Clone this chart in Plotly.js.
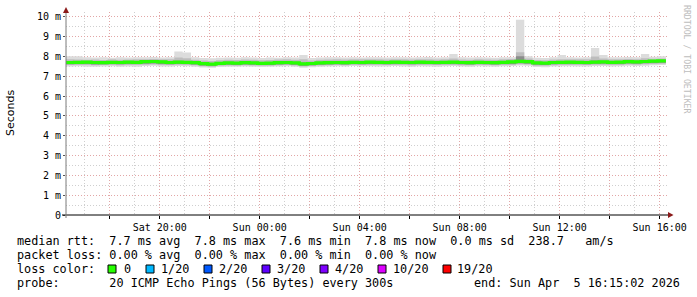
<!DOCTYPE html>
<html><head><meta charset="utf-8">
<script src="https://cdn.plot.ly/plotly-3.0.1.min.js"></script>
<style>html,body{margin:0;padding:0;background:#fff;}#chart{width:697px;height:297px;}</style>
</head><body><div id="chart"></div>
<script>
// ---- data (ms), 20-minute bins starting Sat 2026-04-04 16:15:02 ----
const medianRtt = [
 7.70,7.71,7.72,7.70,7.69,7.71,7.70,7.72,7.71,7.74,7.75,7.73,
 7.70,7.72,7.71,7.69,7.64,7.62,7.66,7.68,7.67,7.69,7.68,7.66,
 7.67,7.69,7.70,7.68,7.63,7.65,7.68,7.69,7.70,7.69,7.71,7.70,
 7.72,7.71,7.70,7.72,7.71,7.70,7.72,7.71,7.70,7.71,7.72,7.70,
 7.69,7.71,7.70,7.69,7.71,7.73,7.76,7.74,7.68,7.67,7.70,7.71,
 7.72,7.71,7.70,7.72,7.73,7.71,7.72,7.74,7.73,7.75,7.77,7.78];
const smokeMax = [
 8.02,8.01,7.96,7.95,7.97,7.94,7.96,7.95,7.97,7.96,7.98,7.95,
 7.97,8.26,8.20,7.96,7.93,7.92,7.94,7.95,7.94,7.96,7.95,7.93,
 7.95,7.94,7.96,7.95,8.08,7.93,7.95,7.96,7.97,7.95,7.96,7.95,
 7.96,7.97,7.95,7.96,7.97,7.95,7.96,7.98,7.95,7.96,8.13,7.96,
 7.95,7.96,7.95,7.94,7.96,7.97,9.86,8.02,7.94,7.93,7.96,8.08,
 7.96,7.95,7.97,8.43,8.08,7.96,7.97,7.98,7.97,8.13,7.99,8.01];
const smokeHi = [
 7.86,7.85,7.84,7.85,7.83,7.86,7.84,7.85,7.86,7.87,7.88,7.86,
 7.86,7.95,7.92,7.84,7.80,7.78,7.82,7.84,7.83,7.85,7.84,7.82,
 7.83,7.85,7.86,7.84,7.86,7.80,7.84,7.85,7.86,7.85,7.87,7.86,
 7.87,7.86,7.85,7.87,7.86,7.85,7.87,7.86,7.85,7.86,7.90,7.85,
 7.84,7.86,7.85,7.84,7.86,7.88,8.22,7.90,7.83,7.82,7.85,7.87,
 7.87,7.86,7.86,8.00,7.90,7.86,7.87,7.88,7.87,7.92,7.89,7.90];
const smokeDarkHi = [
 7.76,7.77,7.78,7.76,7.75,7.77,7.76,7.78,7.77,7.80,7.81,7.79,
 7.76,7.79,7.77,7.75,7.70,7.68,7.72,7.74,7.73,7.75,7.74,7.72,
 7.73,7.75,7.76,7.74,7.70,7.71,7.74,7.75,7.76,7.75,7.77,7.76,
 7.78,7.77,7.76,7.78,7.77,7.76,7.78,7.77,7.76,7.77,7.78,7.76,
 7.75,7.77,7.76,7.75,7.77,7.79,8.02,7.80,7.74,7.73,7.76,7.77,
 7.78,7.77,7.76,7.80,7.79,7.77,7.78,7.80,7.79,7.81,7.83,7.84];
const smokeDarkLo = [
 7.61,7.62,7.63,7.60,7.61,7.62,7.61,7.63,7.62,7.64,7.65,7.63,
 7.61,7.63,7.62,7.60,7.55,7.53,7.57,7.59,7.58,7.60,7.59,7.57,
 7.58,7.60,7.61,7.59,7.54,7.56,7.59,7.60,7.61,7.60,7.62,7.61,
 7.63,7.62,7.61,7.63,7.62,7.61,7.63,7.62,7.61,7.62,7.63,7.61,
 7.60,7.62,7.61,7.60,7.62,7.63,7.66,7.64,7.59,7.58,7.61,7.62,
 7.63,7.62,7.61,7.64,7.64,7.62,7.63,7.65,7.64,7.66,7.68,7.69];
const smokeLo = [
 7.57,7.58,7.58,7.56,7.57,7.58,7.56,7.58,7.57,7.59,7.60,7.58,
 7.57,7.59,7.58,7.56,7.51,7.49,7.53,7.55,7.54,7.56,7.55,7.53,
 7.54,7.56,7.57,7.55,7.50,7.52,7.55,7.56,7.57,7.56,7.58,7.57,
 7.58,7.57,7.57,7.58,7.57,7.56,7.58,7.57,7.57,7.58,7.58,7.56,
 7.56,7.57,7.57,7.56,7.57,7.58,7.61,7.60,7.54,7.53,7.56,7.57,
 7.58,7.57,7.57,7.59,7.59,7.57,7.58,7.60,7.59,7.61,7.63,7.64];
const smokeMin = [
 7.50,7.51,7.49,7.48,7.50,7.51,7.49,7.50,7.48,7.52,7.53,7.50,
 7.50,7.52,7.51,7.49,7.45,7.44,7.47,7.49,7.48,7.50,7.49,7.47,
 7.48,7.50,7.51,7.49,7.44,7.46,7.49,7.50,7.51,7.50,7.52,7.51,
 7.51,7.50,7.50,7.52,7.50,7.49,7.51,7.50,7.49,7.51,7.52,7.50,
 7.49,7.51,7.50,7.49,7.51,7.52,7.55,7.53,7.47,7.46,7.50,7.51,
 7.51,7.50,7.50,7.52,7.52,7.50,7.51,7.53,7.52,7.54,7.56,7.57];

const yTickVals = [0,1,2,3,4,5,6,7,8,9,10];
const yTickText = ['0','1 m','2 m','3 m','4 m','5 m','6 m','7 m','8 m','9 m','10 m'];
const xTickVals = ['2026-04-04 18:00','2026-04-04 20:00','2026-04-04 22:00','2026-04-05 00:00',
  '2026-04-05 02:00','2026-04-05 04:00','2026-04-05 06:00','2026-04-05 08:00',
  '2026-04-05 10:00','2026-04-05 12:00','2026-04-05 14:00','2026-04-05 16:00'];
const xTickText = ['','Sat 20:00','','Sun 00:00','','Sun 04:00','','Sun 08:00','','Sun 12:00','','Sun 16:00'];

const lossLabels = ['0','1/20','2/20','3/20','4/20','10/20','19/20'];
const lossColors = ['#26ff00','#00b8ff','#0059ff','#5e00ff','#7e00ff','#dd00ff','#ff0000'];

const statLine1 = 'median rtt:  7.7 ms avg  7.8 ms max  7.6 ms min  7.8 ms now  0.0 ms sd  238.7   am/s';
const statLine2 = 'packet loss: 0.00 % avg  0.00 % max  0.00 % min  0.00 % now';
const lossTitle = 'loss color:';
const probeLine = 'probe:       20 ICMP Echo Pings (56 Bytes) every 300s';
const endLine = 'end: Sun Apr  5 16:15:02 2026';
const yTitle = 'Seconds';
const watermark = 'RRDTOOL / TOBI OETIKER';

// ---- time axis for the bins ----
function pad(n){return (n<10?'0':'')+n;}
const t0 = Date.UTC(2026,3,4,16,15,2);
const times = [];
for (let i=0;i<=medianRtt.length;i++){
  const d = new Date(t0 + i*20*60000);
  times.push(d.getUTCFullYear()+'-'+pad(d.getUTCMonth()+1)+'-'+pad(d.getUTCDate())+' '+
    pad(d.getUTCHours())+':'+pad(d.getUTCMinutes())+':'+pad(d.getUTCSeconds()));
}
const ext = a => a.concat([a[a.length-1]]);

function band(lo, hi, color){
  return [
    {x: times, y: ext(lo), type:'scatter', mode:'lines', line:{width:0, shape:'hv'}, hoverinfo:'skip', showlegend:false},
    {x: times, y: ext(hi), type:'scatter', mode:'lines', line:{width:0, shape:'hv'}, fill:'tonexty', fillcolor:color, hoverinfo:'skip', showlegend:false}
  ];
}
const traces = [].concat(
  band(smokeMin, smokeMax, '#dcdcdc'),
  band(smokeLo, smokeHi, '#bdbdbd'),
  band(smokeDarkLo, smokeDarkHi, '#8c8c8c'),
  [{x: times, y: ext(medianRtt), type:'scatter', mode:'lines', line:{color:'#26ff00', width:3.2, shape:'hv'}, showlegend:false}]
);

// ---- pixel helpers ----
const PL=66, PR=668, PT=12, PB=215;
const px = x => (x-PL)/(PR-PL);
const py = y => (PB-y)/(PB-PT);
const mono = 'DejaVu Sans Mono';
const nb = s => s.replace(/ /g,'\u00a0');

const annotations = [];
function txt(s, x, y, anchor, size, color, angle, fam){
  annotations.push({text: nb(s), xref:'paper', yref:'paper', x: px(x), y: py(y), xanchor: anchor, yanchor:'middle',
    showarrow:false, textangle: angle||0, borderpad:0, font:{family: fam||mono, size: size, color: color||'#000'}});
}
txt(statLine1, 16, 241, 'left', 11.8);
txt(statLine2, 16, 255, 'left', 11.8);
txt(lossTitle, 16, 269, 'left', 11.8);
txt(probeLine, 16, 283, 'left', 11.8);
txt(endLine, 681, 283, 'right', 11.8);
txt(yTitle, 11, 113, 'center', 11, '#000', -90, 'DejaVu Sans');
txt(watermark, 687, 59, 'center', 8.2, '#bdbdbd', 90);

const boxX = [108,146,204,262,320,378,443];
const labelX = [123,160,218,276,334,392,456];
const shapes = [];
lossLabels.forEach((lab,i)=>{
  shapes.push({type:'rect', xref:'paper', yref:'paper', x0:px(boxX[i]), x1:px(boxX[i]+8), y0:py(273), y1:py(265),
    fillcolor: lossColors[i], line:{color:'#000', width:1}});
  txt(lab, labelX[i], 269, 'left', 11.8);
});
// axes with arrows
shapes.push({type:'line', xref:'paper', yref:'paper', x0:px(62), x1:px(669), y0:py(215), y1:py(215), line:{color:'#000', width:1}});
shapes.push({type:'line', xref:'paper', yref:'paper', x0:px(66), x1:px(66), y0:py(218), y1:py(11), line:{color:'#7a7a7a', width:1}});
shapes.push({type:'path', xref:'paper', yref:'paper',
  path:'M '+px(668)+' '+py(212)+' L '+px(673.5)+' '+py(215)+' L '+px(668)+' '+py(218)+' Z',
  fillcolor:'#8b1a1a', line:{width:0}});
shapes.push({type:'path', xref:'paper', yref:'paper',
  path:'M '+px(63)+' '+py(13)+' L '+px(66)+' '+py(7)+' L '+px(69)+' '+py(13)+' Z',
  fillcolor:'#8b1a1a', line:{width:0}});

const layout = {
  width:697, height:297,
  margin:{l:PL, r:697-PR, t:PT, b:297-PB, pad:0},
  paper_bgcolor:'#ffffff', plot_bgcolor:'#ffffff',
  showlegend:false,
  xaxis:{type:'date', range:['2026-04-04 16:15:02','2026-04-05 16:20:02'],
    tickmode:'array', tickvals:xTickVals, ticktext:xTickText,
    showgrid:true, gridcolor:'#e2a6a6', griddash:'1px,2px', gridwidth:1,
    minor:{dtick:3600000, tick0:'2026-04-04 17:00', showgrid:true, gridcolor:'#cfcfcf', griddash:'1px,2px', ticks:''},
    ticks:'outside', ticklen:3, tickcolor:'#000', showline:false, zeroline:false,
    tickfont:{family:mono, size:10, color:'#000'}, fixedrange:true},
  yaxis:{range:[0,10.25], tickmode:'array', tickvals:yTickVals, ticktext:yTickText,
    showgrid:true, gridcolor:'#e2a6a6', griddash:'1px,2px', gridwidth:1,
    minor:{dtick:0.5, tick0:0, showgrid:true, gridcolor:'#cfcfcf', griddash:'1px,2px', ticks:''},
    ticks:'outside', ticklen:2, tickcolor:'#555', showline:false, zeroline:false,
    tickfont:{family:mono, size:10, color:'#000'}, fixedrange:true},
  annotations: annotations,
  shapes: shapes
};
Plotly.newPlot('chart', traces, layout, {displayModeBar:false, staticPlot:true});
</script></body></html>
